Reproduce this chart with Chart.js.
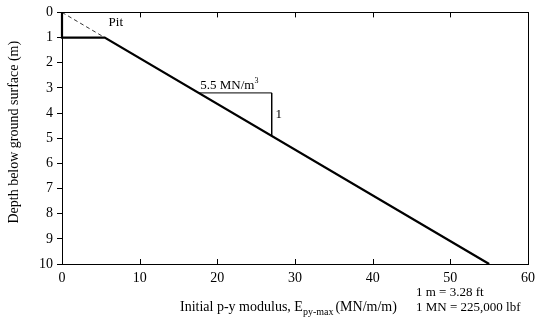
<!DOCTYPE html>
<html>
<head>
<meta charset="utf-8">
<script src="https://cdn.jsdelivr.net/npm/chart.js@4.4.1/dist/chart.umd.min.js"></script>
<style>
  html, body { margin: 0; padding: 0; background: #fff; }
  #wrap { width: 541px; height: 326px; }
</style>
</head>
<body>
<div id="wrap"><canvas id="chartEpy"></canvas></div>
<script>
// p-y modulus profile (MN/m/m) vs depth (m)
const profileE = [0, 0, 5.5, 55];
const profileZ = [0, 1, 1, 10];
// dashed extension through the pit
const pitE = [0, 5.5];
const pitZ = [0, 1];
// slope triangle, 5.5 MN/m3 per 1 m
const slopeE = [17.6, 27, 27];
const slopeZ = [3.2, 3.2, 4.91];

const xTicks = [0, 10, 20, 30, 40, 50, 60];
const yTicks = [0, 1, 2, 3, 4, 5, 6, 7, 8, 9, 10];

const serif = '"Liberation Serif", "DejaVu Serif", serif';

function pts(xs, ys) {
    return xs.map(function(x, i) { return { x: x, y: ys[i] }; });
}

// frame, inner x ticks (bottom and top) and the hand-placed texts
const extras = {
    id: 'extras',
    beforeDatasetsDraw: function(chart) {
        const ctx = chart.ctx;
        const a = chart.chartArea;
        const sx = chart.scales.x;
        ctx.save();
        ctx.strokeStyle = '#000';
        ctx.lineWidth = 1;
        ctx.strokeRect(Math.round(a.left) + 0.5, Math.round(a.top) + 0.5,
                       Math.round(a.right - a.left), Math.round(a.bottom - a.top));
        ctx.beginPath();
        xTicks.forEach(function(v) {
            const px = Math.round(sx.getPixelForValue(v)) + 0.5;
            ctx.moveTo(px, a.bottom);
            ctx.lineTo(px, a.bottom - 5);
            ctx.moveTo(px, a.top);
            ctx.lineTo(px, a.top + 5);
        });
        ctx.stroke();
        ctx.restore();
    },
    afterDraw: function(chart) {
        const ctx = chart.ctx;
        const a = chart.chartArea;
        const sx = chart.scales.x;
        const sy = chart.scales.y;
        ctx.save();
        ctx.fillStyle = '#000';
        ctx.textBaseline = 'alphabetic';

        // annotations
        ctx.font = '13px ' + serif;
        ctx.textAlign = 'left';
        ctx.fillText('Pit', sx.getPixelForValue(6.0), sy.getPixelForValue(0.55));
        ctx.fillText('1', sx.getPixelForValue(27.5), sy.getPixelForValue(4.2));
        const mx = sx.getPixelForValue(17.8);
        const my = sy.getPixelForValue(3.2) - 4;
        ctx.fillText('5.5 MN/m', mx, my);
        const w = ctx.measureText('5.5 MN/m').width;
        ctx.font = '8px ' + serif;
        ctx.fillText('3', mx + w, my - 6);

        // y title
        ctx.font = '14px ' + serif;
        ctx.save();
        ctx.translate(18, (a.top + a.bottom) / 2 - 6);
        ctx.rotate(-Math.PI / 2);
        ctx.textAlign = 'center';
        ctx.fillText('Depth below ground surface (m)', 0, 0);
        ctx.restore();

        // x title with subscript
        let tx = 180;
        const ty = 311;
        ctx.textAlign = 'left';
        ctx.font = '14px ' + serif;
        const t1 = 'Initial p-y modulus, E';
        ctx.fillText(t1, tx, ty);
        tx += ctx.measureText(t1).width;
        ctx.font = '10px ' + serif;
        ctx.fillText('py-max', tx, ty + 4);
        tx += ctx.measureText('py-max').width + 2;
        ctx.font = '14px ' + serif;
        ctx.fillText('(MN/m/m)', tx, ty);

        // unit conversions
        ctx.font = '13px ' + serif;
        ctx.fillText('1 m = 3.28 ft', 416, 296);
        ctx.fillText('1 MN = 225,000 lbf', 416, 311);
        ctx.restore();
    }
};

new Chart(document.getElementById('chartEpy'), {
    type: 'scatter',
    data: {
        datasets: [{
            data: pts(profileE, profileZ),
            showLine: true,
            clip: false,
            borderColor: '#000',
            borderWidth: 2.2,
            pointRadius: 0
        }, {
            data: pts(pitE, pitZ),
            showLine: true,
            borderColor: '#000',
            borderWidth: 0.8,
            borderDash: [4, 3],
            pointRadius: 0
        }, {
            data: pts(slopeE, slopeZ),
            showLine: true,
            borderColor: '#000',
            borderWidth: 1,
            pointRadius: 0
        }]
    },
    options: {
        responsive: true,
        maintainAspectRatio: false,
        animation: false,
        layout: { padding: { top: 12, right: 13, left: 0, bottom: 0 } },
        plugins: {
            legend: { display: false },
            tooltip: { enabled: false }
        },
        scales: {
            x: {
                type: 'linear',
                min: 0,
                max: 60,
                afterFit: function(s) { s.height = 62; },
                afterBuildTicks: function(s) { s.ticks = xTicks.map(function(v) { return { value: v }; }); },
                grid: { display: false, drawTicks: false },
                border: { display: false },
                ticks: { color: '#000', padding: 6, font: { family: serif, size: 14 } }
            },
            y: {
                type: 'linear',
                reverse: true,
                min: 0,
                max: 10,
                afterFit: function(s) { s.width = 62; },
                afterBuildTicks: function(s) { s.ticks = yTicks.map(function(v) { return { value: v }; }); },
                grid: { drawOnChartArea: false, drawTicks: true, tickLength: 5, color: '#000' },
                border: { display: false },
                ticks: { color: '#000', padding: 4, font: { family: serif, size: 14 } }
            }
        }
    },
    plugins: [extras]
});
</script>
</body>
</html>
